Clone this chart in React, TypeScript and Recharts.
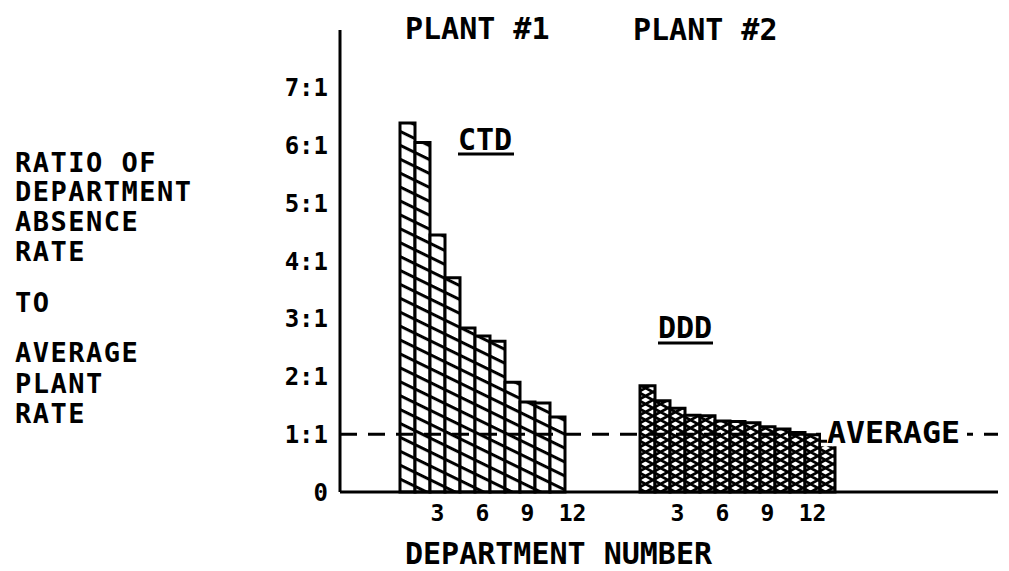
import React from 'react';
import { BarChart, Bar, XAxis, YAxis, ReferenceLine } from 'recharts';

const departments = [1, 2, 3, 4, 5, 6, 7, 8, 9, 10, 11, 12, 13];
const ctdRatios = [6.39, 6.05, 4.45, 3.71, 2.84, 2.7, 2.61, 1.9, 1.56, 1.54, 1.3];
const dddRatios = [1.84, 1.58, 1.45, 1.33, 1.32, 1.23, 1.22, 1.2, 1.13, 1.09, 1.03, 0.99, 0.83];
const yTicks = [0, 1, 2, 3, 4, 5, 6, 7];
const yTickLabels = ['0', '1:1', '2:1', '3:1', '4:1', '5:1', '6:1', '7:1'];
const xTickLabels = ['3', '6', '9', '12'];
const averageRatio = 1;
const plantTitles = ['PLANT #1', 'PLANT #2'];
const seriesNames = ['CTD', 'DDD'];
const yLabelLines = ['RATIO OF', 'DEPARTMENT', 'ABSENCE', 'RATE', 'TO', 'AVERAGE', 'PLANT', 'RATE'];
const xLabel = 'DEPARTMENT NUMBER';
const averageLabel = 'AVERAGE';

const data = departments.map((d, i) => ({
  dept: d,
  ctd: i < ctdRatios.length ? ctdRatios[i] : null,
  ddd: i < dddRatios.length ? dddRatios[i] : null,
}));

const FONT = '"DejaVu Sans Mono", monospace';
const W = 'bold';
const yLabelBaselines = [164, 193, 223, 253, 304, 354, 385, 415];

const xTickFmt = (v: any) => (xTickLabels.includes(String(v)) ? String(v) : '');
const yTickFmt = (v: any) => {
  const i = yTicks.indexOf(Number(v));
  return i >= 0 ? yTickLabels[i] : '';
};

const AvgLabel = (props: any) => {
  const vb = props.viewBox || {};
  const right = (vb.x || 0) + (vb.width || 0);
  const y = vb.y || 0;
  const tx = right - 171;
  return (
    <g>
      <rect x={tx - 6} y={y - 18} width={146} height={30} fill="#fff" />
      <line x1={tx - 6} y1={y + 7} x2={tx} y2={y + 7} stroke="#000" strokeWidth={3} />
      <text x={tx} y={y + 9} fontFamily={FONT} fontWeight={W} fontSize={30} fill="#000" textLength={133} lengthAdjust="spacingAndGlyphs">
        {averageLabel}
      </text>
    </g>
  );
};

export default function App() {
  return (
    <div style={{ width: 1001, height: 563, background: '#fff' }}>
      <BarChart
        width={1001}
        height={563}
        data={data}
        margin={{ top: 22, right: 11, bottom: 38, left: 272 }}
        barCategoryGap={0}
        barGap={0}
      >
        <defs>
          <pattern id="ctdHatch" patternUnits="userSpaceOnUse" width={10} height={12.5} patternTransform="rotate(26)">
            <rect x={0} y={0} width={10} height={12.5} fill="#fff" />
            <rect x={0} y={0} width={10} height={3} fill="#000" />
          </pattern>
          <pattern id="dddHatch" patternUnits="userSpaceOnUse" width={15} height={16}>
            <rect x={0} y={0} width={15} height={16} fill="#fff" />
            <path d="M0,0 L15,8 L0,16 M15,0 L0,8 L15,16" stroke="#000" strokeWidth={2.8} fill="none" />
          </pattern>
        </defs>
        <XAxis
          xAxisId="p1"
          dataKey="dept"
          type="category"
          height={1}
          padding={{ left: 60, right: 403 }}
          interval={0}
          tickFormatter={xTickFmt}
          tickLine={false}
          tickSize={0}
          tickMargin={13}
          axisLine={{ stroke: '#000', strokeWidth: 3 }}
          tick={{ fill: '#000', fontSize: 23, fontFamily: FONT, fontWeight: W }}
        />
        <XAxis
          xAxisId="p2"
          dataKey="dept"
          type="category"
          height={40}
          padding={{ left: 300, right: 163 }}
          interval={0}
          tickFormatter={xTickFmt}
          tickLine={false}
          tickSize={0}
          tickMargin={12}
          axisLine={false}
          tick={{ fill: '#000', fontSize: 23, fontFamily: FONT, fontWeight: W }}
        />
        <YAxis
          width={60}
          domain={[0, 8]}
          ticks={yTicks}
          tickFormatter={yTickFmt}
          tickLine={false}
          tickSize={0}
          tickMargin={12}
          axisLine={{ stroke: '#000', strokeWidth: 3 }}
          tick={{ fill: '#000', fontSize: 24, fontFamily: FONT, fontWeight: W }}
        />
        <Bar
          xAxisId="p1"
          dataKey="ctd"
          name={seriesNames[0]}
          fill="url(#ctdHatch)"
          stroke="#000"
          strokeWidth={3}
          isAnimationActive={false}
        />
        <Bar
          xAxisId="p2"
          dataKey="ddd"
          name={seriesNames[1]}
          fill="url(#dddHatch)"
          stroke="#000"
          strokeWidth={3}
          isAnimationActive={false}
        />
        <ReferenceLine
          xAxisId="p1"
          y={averageRatio}
          stroke="#000"
          strokeWidth={3}
          strokeDasharray="17 11"
          label={<AvgLabel />}
        />
        <text x={397} y={31} fontFamily={FONT} fontWeight={W} fontSize={30} fill="#000">{plantTitles[0]}</text>
        <text x={625} y={32} fontFamily={FONT} fontWeight={W} fontSize={30} fill="#000">{plantTitles[1]}</text>
        <text x={450} y={142} fontFamily={FONT} fontWeight={W} fontSize={30} fill="#000">{seriesNames[0]}</text>
        <line x1={450} y1={146} x2={506} y2={146} stroke="#000" strokeWidth={3} />
        <text x={650} y={330} fontFamily={FONT} fontWeight={W} fontSize={30} fill="#000">{seriesNames[1]}</text>
        <line x1={650} y1={335} x2={705} y2={335} stroke="#000" strokeWidth={3} />
        {yLabelLines.map((t, i) => (
          <text key={i} x={7} y={yLabelBaselines[i]} fontFamily={FONT} fontWeight={W} fontSize={27} letterSpacing={1.5} fill="#000">
            {t}
          </text>
        ))}
        <text x={397} y={556} fontFamily={FONT} fontWeight={W} fontSize={30} fill="#000">{xLabel}</text>
      </BarChart>
    </div>
  );
}
